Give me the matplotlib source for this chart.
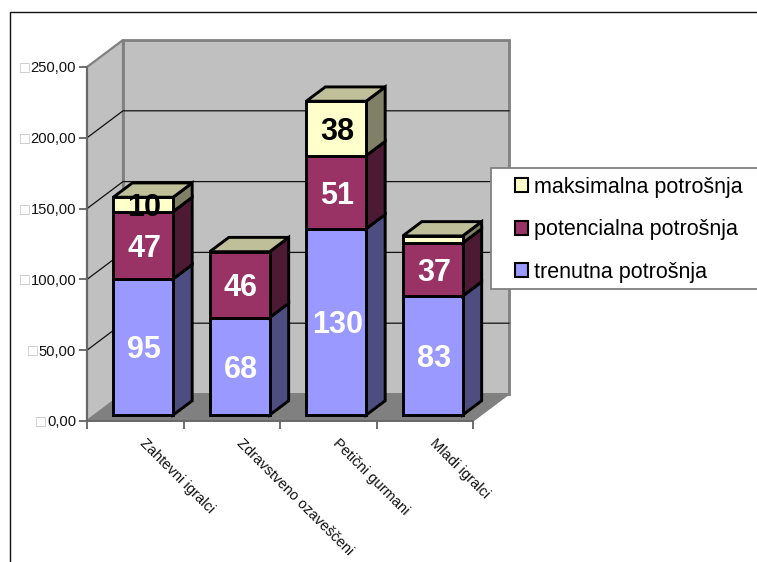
import matplotlib
matplotlib.use("Agg")
import matplotlib.pyplot as plt
from matplotlib.patches import Patch, Polygon, Rectangle

plt.rcParams['font.family'] = ['Liberation Sans', 'DejaVu Sans']

# =============================================================================
# Data
# =============================================================================
categories = ["Zahtevni igralci", "Zdravstveno ozaveščeni", "Petični gurmani", "Mladi igralci"]
trenutna = [95, 68, 130, 83]
potencialna = [47, 46, 51, 37]
maksimalna = [10, 0, 38, 5]
# the thin top segment of the last bar has no label in the chart
show_label = [[True, True, True], [True, True, False], [True, True, True], [True, True, False]]
series_names = ["trenutna potrošnja", "potencialna potrošnja", "maksimalna potrošnja"]
y_ticks = [0, 50, 100, 150, 200, 250]
y_tick_labels = ["0,00", "50,00", "100,00", "150,00", "200,00", "250,00"]

front_colors = ["#9999FF", "#993366", "#FFFFCC"]
side_colors = ["#4D4D80", "#4D1A33", "#808066"]
top_color = "#BFBF99"
text_colors = ["white", "white", "black"]

# =============================================================================
# Layout, in pixels of the 757x562 canvas
# =============================================================================
W, H = 757, 562
PLOT_L, PLOT_R, PLOT_B, PLOT_T = 87, 473, 421, 67
DEPTH_X = 36 / ((PLOT_R - PLOT_L) / len(categories))   # oblique shift in category units
DEPTH_Y = 27 / ((PLOT_B - PLOT_T) / 250)               # oblique shift in value units
BAR_GAP = 0.19
Z_FRONT, Z_BACK = 0.22, 0.75
FRONT_STRETCH = 1.012   # the bars sit nearer the viewer than the axis plane


def px(x, y):
    return x / W, 1 - y / H


def proj(x, y, z):
    return x + z * DEPTH_X, y + z * DEPTH_Y


def bar_proj(x, y, z):
    return proj(x, y * FRONT_STRETCH, z)


def box(ax, x0, x1, y0, y1, i_color, with_top):
    lw = 2.1
    side = [bar_proj(x1, y0, Z_FRONT), bar_proj(x1, y0, Z_BACK), bar_proj(x1, y1, Z_BACK), bar_proj(x1, y1, Z_FRONT)]
    front = [bar_proj(x0, y0, Z_FRONT), bar_proj(x1, y0, Z_FRONT), bar_proj(x1, y1, Z_FRONT), bar_proj(x0, y1, Z_FRONT)]
    ax.add_patch(Polygon(side, closed=True, fc=side_colors[i_color], ec="black", lw=lw, clip_on=False, zorder=3))
    ax.add_patch(Polygon(front, closed=True, fc=front_colors[i_color], ec="black", lw=lw, clip_on=False, zorder=3))
    if with_top:
        top = [bar_proj(x0, y1, Z_FRONT), bar_proj(x1, y1, Z_FRONT), bar_proj(x1, y1, Z_BACK), bar_proj(x0, y1, Z_BACK)]
        ax.add_patch(Polygon(top, closed=True, fc=top_color, ec="black", lw=lw, clip_on=False, zorder=3))


fig = plt.figure(figsize=(W / 100, H / 100), dpi=100, facecolor="white")

# outer chart frame runs past the right and bottom of the canvas
fig.add_artist(Rectangle(px(10, 580), 780 / W, 568 / H, transform=fig.transFigure,
                         fc="none", ec="#111111", lw=1.0))

ax = fig.add_axes([PLOT_L / W, 1 - PLOT_B / H, (PLOT_R - PLOT_L) / W, (PLOT_B - PLOT_T) / H])
ax.set_xlim(0, len(categories))
ax.set_ylim(0, 250)
ax.patch.set_visible(False)
for s in ("top", "right"):
    ax.spines[s].set_visible(False)
for s in ("left", "bottom"):
    ax.spines[s].set_color("#666666")
    ax.spines[s].set_linewidth(1.3)
    ax.spines[s].set_zorder(2.5)

n = len(categories)

# =============================================================================
# Walls and floor
# =============================================================================
wall_grey = "#C0C0C0"
edge_grey = "#808080"
back = [proj(0, 0, 1), proj(n, 0, 1), proj(n, 250, 1), proj(0, 250, 1)]
side_wall = [proj(0, 0, 0), proj(0, 0, 1), proj(0, 250, 1), proj(0, 250, 0)]
floor = [proj(0, 0, 0), proj(n, 0, 0), proj(n, 0, 1), proj(0, 0, 1)]
ax.add_patch(Polygon(back, closed=True, fc=wall_grey, ec=edge_grey, lw=2.0, clip_on=False, zorder=1))
ax.add_patch(Polygon(side_wall, closed=True, fc=wall_grey, ec=edge_grey, lw=1.6, clip_on=False, zorder=1))
ax.add_patch(Polygon(floor, closed=True, fc="#808080", ec="#808080", lw=1.0, clip_on=False, zorder=1.2))

for v in y_ticks[1:-1]:
    pts = [proj(0, v, 0), proj(0, v, 1), proj(n, v, 1)]
    ax.plot([p[0] for p in pts], [p[1] for p in pts], color="#111111", lw=0.9, clip_on=False, zorder=1.5)

# =============================================================================
# Stacked bars
# =============================================================================
for i in range(n):
    values = [trenutna[i], potencialna[i], maksimalna[i]]
    x0, x1 = i + BAR_GAP, i + 1 - BAR_GAP
    base = 0
    last = max(k for k in range(3) if values[k] > 0)
    for k in range(3):
        if values[k] <= 0:
            continue
        box(ax, x0, x1, base, base + values[k], k, k == last)
        if show_label[i][k]:
            cx, cy = bar_proj((x0 + x1) / 2 + 0.012, base + values[k] / 2, Z_FRONT)
            ax.text(cx, cy, str(values[k]), color=text_colors[k], fontsize=22, fontweight="bold",
                    ha="center", va="center_baseline", zorder=4, clip_on=False)
        base += values[k]

# =============================================================================
# Axes, ticks and labels
# =============================================================================
ax.set_yticks(y_ticks)
ax.set_yticklabels(y_tick_labels, fontsize=10.6, color="#111111")
ax.set_xticks(range(n + 1))
ax.set_xticklabels([])
ax.tick_params(axis="both", length=5.8, width=1.2, color="#555555", pad=2)

for i, name in enumerate(categories):
    ax.annotate(name, xy=(i + 0.5, 0), xytext=(7, -20), textcoords="offset pixels",
                rotation=-45, rotation_mode="anchor", ha="left", va="center",
                fontsize=10.5, color="#111111", annotation_clip=False)

# small hollow box glyph in front of each value on the axis
fig.canvas.draw()
renderer = fig.canvas.get_renderer()
for lab, v in zip(ax.get_yticklabels(), y_ticks):
    ext = lab.get_window_extent(renderer)
    fig.text((ext.x0 - 1) / W, (ext.y0 + ext.y1) / 2 / H, "\u25a1", fontsize=11.5, color="#BBBBBB",
             ha="right", va="center")

# =============================================================================
# Legend
# =============================================================================
fig.add_artist(Rectangle(px(491, 289), 300 / W, 121 / H, transform=fig.transFigure,
                         fc="white", ec="#808080", lw=1.3, zorder=4))
handles = [Patch(fc=front_colors[k], ec="black", lw=1.5, label=series_names[k]) for k in (2, 1, 0)]
fig.legend(handles=handles, loc="center left", bbox_to_anchor=px(515, 230), frameon=False,
           fontsize=15.5, handlelength=0.62, handleheight=0.62, handletextpad=0.25,
           labelspacing=1.0, borderpad=0, borderaxespad=0).set_zorder(5)

fig.savefig("out.png", dpi=100)
